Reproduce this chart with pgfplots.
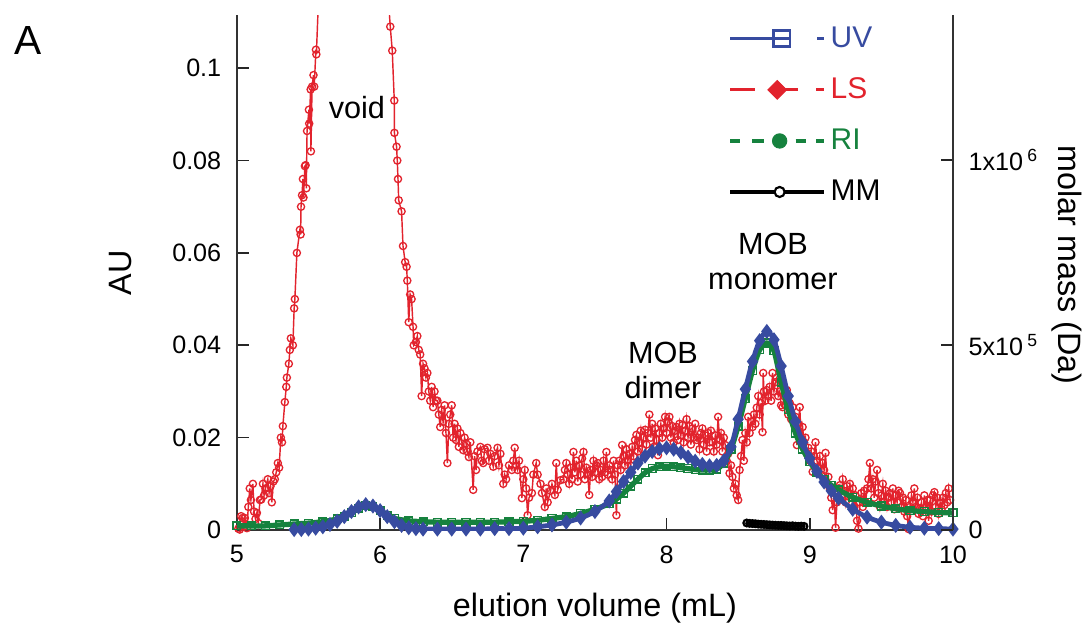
\documentclass[border=0pt]{standalone}
\usepackage{fontspec}
\setmainfont{Liberation Sans}
\usepackage{pgfplots}
\pgfplotsset{compat=1.18}
\definecolor{uvblue}{RGB}{55,75,160}
\definecolor{lsred}{RGB}{226,35,45}
\definecolor{rigreen}{RGB}{22,130,62}
\begin{document}
\begin{tikzpicture}
% left axis: UV, LS, RI in AU
\begin{axis}[
  scale only axis, width=299pt, height=215pt,
  xmin=5, xmax=10, ymin=0, ymax=0.1115,
  axis x line*=bottom, axis y line*=left,
  axis line style={-, black!80, line width=0.7pt},
  tick align=inside, major tick length=5.2pt,
  tick style={black!85, line width=0.7pt},
  xtick={5,6,7,8,9,10},
  ytick={0,0.02,0.04,0.06,0.08,0.1},
  yticklabels={0,0.02,0.04,0.06,0.08,0.1},
  /pgf/number format/assume math mode=true,
  ticklabel style={font=\fontsize{10.5}{12}\selectfont},
  xticklabel style={yshift=-3pt},
  yticklabel style={xshift=-3pt},
  xlabel={elution volume (mL)}, ylabel={AU},
  label style={font=\fontsize{13.5}{16}\selectfont},
  xlabel style={at={(axis description cs:0.5,-0.152)}, anchor=center},
  ylabel style={at={(axis description cs:-0.163,0.5)}, anchor=center},
  clip mode=individual,
]
% LS
\addplot[lsred, line width=0.6pt, mark=o, mark size=1.5pt, mark options={line width=0.55pt}] coordinates {
(5.01,0.0003)(5.02,0.0001)(5.03,0.0030)(5.04,0.0026)(5.05,0.0008)(5.056,0.0026)(5.07,0.0004)(5.08,0.0050)
(5.09,0.0090)(5.098,0.0065)(5.112,0.0100)(5.12,0.0040)(5.13,0.0024)(5.14,0.0037)(5.15,0.0015)(5.161,0.0065)
(5.17,0.0066)(5.182,0.0100)(5.19,0.0075)(5.20,0.0090)(5.216,0.0110)(5.225,0.0080)(5.235,0.0095)(5.244,0.0060)
(5.255,0.0105)(5.265,0.0110)(5.275,0.0125)(5.286,0.0145)(5.295,0.0135)(5.307,0.0200)(5.315,0.0190)(5.321,0.0225)
(5.335,0.0277)(5.345,0.0310)(5.349,0.0330)(5.363,0.0360)(5.37,0.0390)(5.377,0.0415)(5.391,0.0400)(5.40,0.0480)
(5.405,0.0500)(5.419,0.0600)(5.44,0.0650)(5.445,0.0640)(5.448,0.0700)(5.455,0.0725)(5.461,0.0760)(5.465,0.0720)
(5.475,0.0788)(5.48,0.0790)(5.485,0.0740)(5.49,0.0864)(5.503,0.0910)(5.505,0.0880)(5.515,0.0954)(5.517,0.0820)
(5.525,0.0960)(5.535,0.0985)(5.54,0.0960)(5.552,0.1040)(5.555,0.1030)(5.57,0.1150)(5.65,0.1350)(5.75,0.1480)
(5.85,0.1520)(5.95,0.1450)(6.03,0.1250)(6.06,0.1140)
(6.071,0.1090)(6.085,0.1038)(6.099,0.0930)(6.10,0.0860)(6.115,0.0830)(6.12,0.0800)(6.125,0.0760)(6.13,0.0714)
(6.15,0.0690)(6.16,0.0615)(6.175,0.0580)(6.185,0.0570)(6.19,0.0540)(6.20,0.0450)(6.21,0.0510)(6.22,0.0500)
(6.23,0.0440)(6.235,0.0400)(6.25,0.0407)(6.26,0.0420)(6.27,0.0390)(6.28,0.0380)(6.29,0.0290)(6.30,0.0360)
(6.31,0.0350)(6.32,0.0330)(6.33,0.0340)(6.34,0.0300)(6.35,0.0280)(6.36,0.0310)(6.37,0.0266)(6.38,0.0300)
(6.39,0.0280)(6.40,0.0280)(6.41,0.0250)(6.42,0.0223)(6.43,0.0260)(6.44,0.0234)(6.45,0.0270)(6.46,0.0210)
(6.47,0.0145)(6.48,0.0230)(6.49,0.0250)(6.50,0.0270)(6.51,0.0200)(6.52,0.0230)(6.53,0.0195)(6.54,0.0220)
(6.55,0.0180)(6.56,0.0210)(6.58,0.0173)(6.59,0.0200)(6.60,0.0188)(6.61,0.0170)(6.62,0.0158)(6.63,0.0190)
(6.65,0.0087)(6.66,0.0160)(6.67,0.0130)(6.68,0.0170)(6.70,0.0180)(6.71,0.0150)(6.72,0.0145)(6.73,0.0175)
(6.75,0.0178)(6.76,0.0150)(6.77,0.0165)(6.79,0.0137)(6.80,0.0160)(6.82,0.0178)(6.83,0.0140)(6.84,0.0165)
(6.86,0.0100)(6.87,0.0120)(6.88,0.0110)(6.90,0.0140)(6.92,0.0130)(6.93,0.0150)(6.94,0.0178)(6.95,0.0140)
(6.96,0.0130)(6.97,0.0150)(6.99,0.0069)(7.00,0.0110)(7.01,0.0130)(7.02,0.0090)(7.03,0.0032)(7.04,0.0070)
(7.06,0.0080)(7.07,0.0120)(7.09,0.0145)(7.10,0.0120)(7.12,0.0100)(7.13,0.0080)(7.15,0.0050)(7.16,0.0090)
(7.17,0.0060)(7.19,0.0085)(7.20,0.0100)(7.22,0.0076)(7.23,0.0145)(7.24,0.0087)(7.26,0.0108)(7.28,0.0110)
(7.29,0.0130)(7.30,0.0145)(7.31,0.0120)(7.32,0.0100)(7.33,0.0135)(7.34,0.0110)(7.35,0.0169)(7.36,0.0125)
(7.37,0.0150)(7.38,0.0105)(7.39,0.0140)(7.40,0.0120)(7.41,0.0155)(7.42,0.0169)(7.43,0.0110)(7.44,0.0135)
(7.45,0.0120)(7.46,0.0076)(7.47,0.0130)(7.48,0.0115)(7.49,0.0150)(7.50,0.0125)(7.51,0.0140)(7.52,0.0145)
(7.53,0.0110)(7.54,0.0130)(7.55,0.0115)(7.56,0.0150)(7.57,0.0125)(7.58,0.0169)(7.59,0.0120)(7.60,0.0140)
(7.61,0.0130)(7.62,0.0110)(7.63,0.0150)(7.64,0.0120)(7.65,0.0032)(7.66,0.0140)(7.67,0.0150)(7.68,0.0130)
(7.69,0.0184)(7.70,0.0160)(7.71,0.0140)(7.72,0.0175)(7.73,0.0150)(7.74,0.0165)(7.75,0.0140)(7.76,0.0180)
(7.77,0.0160)(7.78,0.0195)(7.79,0.0206)(7.80,0.0170)(7.81,0.0190)(7.82,0.0215)(7.83,0.0175)(7.84,0.0200)
(7.85,0.0217)(7.86,0.0185)(7.87,0.0210)(7.88,0.0250)(7.89,0.0200)(7.90,0.0230)(7.91,0.0180)(7.92,0.0220)
(7.93,0.0195)(7.94,0.0162)(7.95,0.0210)(7.96,0.0230)(7.97,0.0200)(7.98,0.0220)(7.99,0.0245)(8.00,0.0210)
(8.01,0.0235)(8.02,0.0245)(8.03,0.0200)(8.04,0.0225)(8.05,0.0190)(8.06,0.0215)(8.07,0.0223)(8.08,0.0195)
(8.09,0.0230)(8.10,0.0205)(8.11,0.0227)(8.12,0.0190)(8.13,0.0215)(8.14,0.0240)(8.15,0.0200)(8.16,0.0225)
(8.17,0.0185)(8.18,0.0220)(8.19,0.0200)(8.20,0.0230)(8.21,0.0195)(8.22,0.0200)(8.23,0.0175)(8.24,0.0210)
(8.25,0.0220)(8.26,0.0185)(8.27,0.0205)(8.28,0.0170)(8.29,0.0210)(8.30,0.0190)(8.31,0.0215)(8.32,0.0190)
(8.33,0.0170)(8.34,0.0205)(8.35,0.0185)(8.36,0.0245)(8.37,0.0195)(8.38,0.0210)(8.39,0.0170)(8.40,0.0200)
(8.41,0.0184)(8.42,0.0150)(8.43,0.0165)(8.44,0.0123)(8.45,0.0140)(8.46,0.0115)(8.47,0.0090)(8.48,0.0100)
(8.49,0.0075)(8.50,0.0065)(8.51,0.0130)(8.52,0.0160)(8.53,0.0195)(8.54,0.0150)(8.55,0.0210)(8.56,0.0190)
(8.57,0.0245)(8.58,0.0210)(8.59,0.0235)(8.60,0.0223)(8.61,0.0250)(8.62,0.0230)(8.63,0.0265)(8.64,0.0290)
(8.65,0.0250)(8.66,0.0275)(8.67,0.0212)(8.675,0.0340)(8.68,0.0300)(8.69,0.0280)(8.70,0.0303)(8.71,0.0290)
(8.72,0.0310)(8.73,0.0280)(8.74,0.0340)(8.75,0.0300)(8.76,0.0320)(8.77,0.0330)(8.78,0.0290)(8.79,0.0300)
(8.80,0.0270)(8.81,0.0266)(8.82,0.0290)(8.83,0.0270)(8.84,0.0303)(8.85,0.0250)(8.86,0.0275)(8.87,0.0240)
(8.88,0.0266)(8.89,0.0230)(8.90,0.0245)(8.91,0.0184)(8.92,0.0230)(8.93,0.0266)(8.94,0.0200)(8.95,0.0223)
(8.96,0.0190)(8.97,0.0200)(8.98,0.0165)(8.99,0.0178)(9.00,0.0150)(9.01,0.0170)(9.02,0.0126)(9.03,0.0160)
(9.04,0.0190)(9.05,0.0150)(9.06,0.0135)(9.07,0.0160)(9.08,0.0120)(9.09,0.0145)(9.10,0.0130)(9.11,0.0167)
(9.12,0.0100)(9.13,0.0115)(9.14,0.0090)(9.15,0.0070)(9.16,0.0043)(9.17,0.0080)(9.18,0.0005)(9.19,0.0060)
(9.20,0.0090)(9.21,0.0097)(9.22,0.0075)(9.23,0.0110)(9.24,0.0085)(9.25,0.0060)(9.26,0.0095)(9.27,0.0080)
(9.28,0.0100)(9.29,0.0070)(9.30,0.0090)(9.31,0.0050)(9.32,0.0075)(9.33,0.0020)(9.34,0.0003)(9.35,0.0060)
(9.36,0.0080)(9.37,0.0050)(9.38,0.0085)(9.39,0.0060)(9.40,0.0090)(9.41,0.0110)(9.42,0.0145)(9.43,0.0090)
(9.44,0.0110)(9.45,0.0070)(9.46,0.0105)(9.47,0.0130)(9.48,0.0080)(9.49,0.0050)(9.50,0.0075)(9.51,0.0100)
(9.52,0.0060)(9.53,0.0085)(9.54,0.0050)(9.55,0.0070)(9.56,0.0080)(9.57,0.0060)(9.58,0.0090)(9.59,0.0045)
(9.60,0.0075)(9.61,0.0060)(9.62,0.0085)(9.63,0.0080)(9.64,0.0050)(9.65,0.0070)(9.66,0.0040)(9.67,0.0065)
(9.68,0.0030)(9.69,0.0002)(9.70,0.0050)(9.71,0.0075)(9.72,0.0060)(9.73,0.0090)(9.74,0.0050)(9.75,0.0070)
(9.76,0.0035)(9.77,0.0047)(9.78,0.0060)(9.79,0.0030)(9.80,0.0075)(9.81,0.0050)(9.82,0.0065)(9.83,0.0020)
(9.84,0.0065)(9.85,0.0040)(9.86,0.0075)(9.87,0.0082)(9.88,0.0050)(9.89,0.0070)(9.90,0.0035)(9.91,0.0060)
(9.92,0.0045)(9.93,0.0070)(9.94,0.0054)(9.95,0.0080)(9.96,0.0060)(9.97,0.0090)(9.98,0.0065)
};
% RI
\addplot[rigreen, line width=2.2pt, smooth, mark=square, mark size=1.6pt, mark options={line width=0.6pt}] coordinates {
(5.00,0.0009)(5.10,0.0009)(5.20,0.0009)(5.30,0.0011)(5.40,0.0013)(5.50,0.0015)(5.60,0.0018)(5.70,0.0024)
(5.75,0.0030)(5.80,0.0038)(5.85,0.0047)(5.90,0.0053)(5.95,0.0051)(6.00,0.0042)(6.05,0.0032)(6.10,0.0025)
(6.20,0.0020)(6.30,0.0018)(6.40,0.0017)(6.50,0.0017)(6.60,0.0017)(6.70,0.0017)(6.80,0.0017)(6.90,0.0018)
(7.00,0.0019)(7.10,0.0021)(7.20,0.0025)(7.30,0.0029)(7.40,0.0036)(7.50,0.0045)(7.60,0.0057)(7.65,0.0067)
(7.70,0.0080)(7.75,0.0095)(7.80,0.0110)(7.85,0.0124)(7.90,0.0133)(7.95,0.0137)(8.00,0.0138)(8.05,0.0137)
(8.10,0.0135)(8.15,0.0133)(8.20,0.0131)(8.25,0.0130)(8.30,0.0130)(8.35,0.0132)(8.40,0.0145)(8.45,0.0175)
(8.50,0.0225)(8.55,0.0285)(8.60,0.0345)(8.65,0.0390)(8.70,0.0405)(8.75,0.0388)(8.80,0.0320)(8.85,0.0260)
(8.90,0.0210)(8.95,0.0175)(9.00,0.0148)(9.05,0.0125)(9.10,0.0110)(9.15,0.0097)(9.20,0.0087)(9.30,0.0071)
(9.40,0.0060)(9.50,0.0052)(9.60,0.0046)(9.70,0.0042)(9.80,0.0040)(9.90,0.0038)(10.00,0.0037)
};
% UV
\addplot[uvblue, line width=2.0pt, smooth, mark=diamond*, mark size=1.5pt] coordinates {
(5.40,0.0001)(5.45,0.0001)(5.50,0.0002)(5.55,0.0004)(5.60,0.0007)(5.65,0.0012)(5.70,0.0019)(5.75,0.0029)
(5.80,0.0040)(5.85,0.0050)(5.90,0.0055)(5.95,0.0052)(6.00,0.0042)(6.05,0.0029)(6.10,0.0018)(6.15,0.0010)
(6.20,0.0005)(6.25,0.0003)(6.30,0.0002)(6.40,0.0002)(6.50,0.0002)(6.60,0.0002)(6.70,0.0002)(6.80,0.0003)
(6.90,0.0003)(7.00,0.0004)(7.10,0.0007)(7.20,0.0011)(7.30,0.0017)(7.40,0.0026)(7.50,0.0040)(7.60,0.0063)
(7.65,0.0083)(7.70,0.0105)(7.75,0.0125)(7.80,0.0145)(7.85,0.0160)(7.90,0.0170)(7.95,0.0176)(8.00,0.0178)
(8.05,0.0175)(8.10,0.0168)(8.15,0.0158)(8.20,0.0149)(8.25,0.0142)(8.30,0.0139)(8.35,0.0140)(8.40,0.0150)
(8.45,0.0180)(8.50,0.0240)(8.55,0.0305)(8.60,0.0365)(8.65,0.0410)(8.70,0.0430)(8.75,0.0412)(8.80,0.0355)
(8.85,0.0290)(8.90,0.0235)(8.95,0.0190)(9.00,0.0155)(9.05,0.0127)(9.10,0.0104)(9.15,0.0085)(9.20,0.0069)
(9.30,0.0045)(9.40,0.0028)(9.50,0.0017)(9.60,0.0010)(9.70,0.0006)(9.80,0.0004)(9.90,0.0003)(10.00,0.0002)
};
\node[font=\fontsize{12.8}{15}\selectfont] at (axis cs:5.838,0.0914) {void};
\node[align=center, font=\fontsize{12.8}{14.5}\selectfont] at (axis cs:7.975,0.0346) {MOB\\dimer};
\node[align=center, font=\fontsize{12.8}{14.5}\selectfont] at (axis cs:8.743,0.0582) {MOB\\monomer};
\node[font=\fontsize{17}{20}\selectfont] at (rel axis cs:-0.292,0.951) {A};
\end{axis}
% right axis: molar mass
\begin{axis}[
  scale only axis, width=299pt, height=215pt,
  xmin=5, xmax=10, ymin=0, ymax=1392000,
  axis x line=none, axis y line*=right,
  axis line style={-, black!80, line width=0.7pt},
  tick align=inside, major tick length=5.2pt,
  tick style={black!85, line width=0.7pt},
  ytick={0,500000,1000000},
  yticklabels={0,5x10\,\textsuperscript{5},1x10\,\textsuperscript{6}},
  scaled y ticks=false,
  ticklabel style={font=\fontsize{10.5}{12}\selectfont},
  yticklabel style={xshift=3pt, anchor=west},
  ylabel={molar mass (Da)},
  label style={font=\fontsize{13.5}{16}\selectfont},
  ylabel style={at={(axis description cs:1.159,0.515)}, anchor=center, rotate=180},
  legend style={draw=none, fill=none, at={(axis description cs:0.686,0.988)}, anchor=north west,
    inner sep=0pt, row sep=7.2pt, font=\fontsize{12.5}{14}\selectfont},
  legend cell align=left,
]
\addlegendimage{legend image code/.code={
  \draw[uvblue, line width=1.4pt] (0pt,0pt) -- (25pt,0pt);
  \draw[uvblue, line width=1.1pt] (18pt,-3.4pt) rectangle (25pt,3.4pt);
  \draw[uvblue, line width=1.4pt] (36.3pt,0pt) -- (39.2pt,0pt);}}
\addlegendentry{\textcolor{uvblue}{UV}}
\addlegendimage{legend image code/.code={
  \draw[lsred, line width=1.3pt] (0pt,0pt) -- (10.4pt,0pt) (19.6pt,0pt) -- (28.4pt,0pt) (35.8pt,0pt) -- (39.2pt,0pt);
  \fill[lsred] (19.6pt,3.9pt) -- (23.5pt,0pt) -- (19.6pt,-3.9pt) -- (15.7pt,0pt) -- cycle;}}
\addlegendentry{\textcolor{lsred}{LS}}
\addlegendimage{legend image code/.code={
  \draw[rigreen, line width=1.3pt] (0pt,0pt) -- (4.2pt,0pt) (9.2pt,0pt) -- (14pt,0pt) (27.3pt,0pt) -- (31.4pt,0pt) (35.8pt,0pt) -- (39.2pt,0pt);
  \fill[rigreen] (20.6pt,0pt) circle (3pt);}}
\addlegendentry{\textcolor{rigreen}{RI}}
\addlegendimage{legend image code/.code={
  \draw[black, line width=1.4pt] (0pt,0pt) -- (39.2pt,0pt);
  \draw[black, line width=0.9pt, fill=white] (20.6pt,0pt) circle (2.1pt);}}
\addlegendentry{MM}
% MM
\addplot[black, line width=1.2pt, mark=o, mark size=1.4pt, mark options={line width=0.9pt}, forget plot] coordinates {
(8.56,19000)(8.58,18000)(8.60,17500)(8.62,17000)(8.64,16000)(8.66,15500)(8.68,15000)(8.70,14500)
(8.72,14000)(8.74,13500)(8.76,13000)(8.78,12500)(8.80,12500)(8.82,12000)(8.84,11500)(8.86,11000)
(8.88,11500)(8.90,10500)(8.92,10000)(8.94,10500)(8.96,10000)
};
\end{axis}
\pgfresetboundingbox
\path ([shift={(-98.9pt,-42.6pt)}]current axis.south west) rectangle ([shift={(57.2pt,6.3pt)}]current axis.north east);
\end{tikzpicture}
\end{document}
